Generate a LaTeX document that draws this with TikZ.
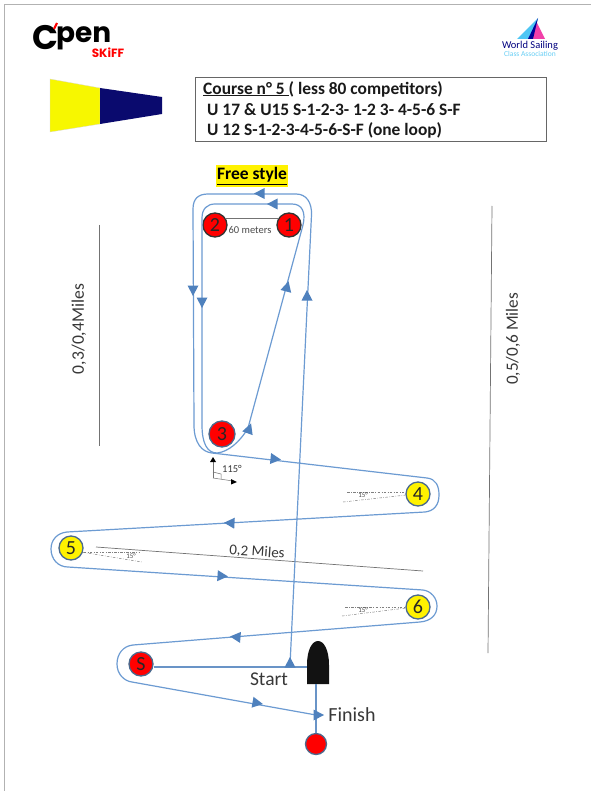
\documentclass[tikz,border=0pt]{standalone}
\usepackage{fontspec}
\setmainfont{Carlito}
\newfontfamily\logofont{Poppins}
\usetikzlibrary{calc}
\definecolor{loopblue}{HTML}{6C9BD2}
\definecolor{arrowblue}{HTML}{4F81BD}
\definecolor{ringgrey}{HTML}{4A6A8E}
\definecolor{navyflag}{HTML}{0A0A6E}
\definecolor{flagyellow}{HTML}{F7F700}
\tikzset{
  route/.style={draw=loopblue,line width=1.2pt},
  thick route/.style={draw=arrowblue!85!white,line width=1.6pt},
  scale line/.style={draw=black!55,line width=0.7pt},
  angle line/.style={draw=black!50,line width=0.5pt,dash pattern=on 2.5pt off 1.5pt on 0.6pt off 1.5pt},
  buoy/.style={circle,draw=ringgrey,line width=1.3pt,inner sep=0pt,minimum size=24pt,font=\fontsize{20}{20}\selectfont,text=black!85},
  redbuoy/.style={buoy,fill=red},
  yellowbuoy/.style={buoy,fill=yellow},
  lab/.style={inner sep=0pt,text=black!78},
  boxtext/.style={inner sep=0pt,anchor=west,text=black!90,font=\bfseries\fontsize{17.4}{17.4}\selectfont},
  tiny lab/.style={inner sep=0pt,text=black!70,font=\fontsize{7}{7}\selectfont},
}
\newcommand{\tipat}[3]{\fill[arrowblue,shift={(#1,#2)},rotate=#3] (6,0)--(-4.5,5.5)--(-4.5,-5.5)--cycle;}
\begin{document}
\begin{tikzpicture}[x=1pt,y=-1pt]
\useasboundingbox (0,0) rectangle (591,791);
\fill[white] (0,0) rectangle (591,791);
% page frame
\draw[black!30,line width=0.7pt] (4.5,791)--(4.5,4.5)--(591,4.5);
% logos
\node[inner sep=0pt,font=\logofont\bfseries\fontsize{34}{34}\selectfont] (logoC) at (45,38) {C};
\node[inner sep=0pt,font=\logofont\bfseries\fontsize{28}{28}\selectfont,anchor=west] (logoP) at (56,38) {pen};
\draw[red,line width=2.2pt] (54,29)--(57,23);
\node[inner sep=0pt,text=red,font=\logofont\bfseries\fontsize{12}{12}\selectfont] (logoS) at (108,53) {SKiFF};
\fill[cyan!70!white] (517,39)--(538,18)--(533,39)--cycle;
\fill[magenta!75!white] (530,39)--(537,23)--(545,39)--cycle;
\fill[blue!60!black] (528,39)--(538,18)--(533,39)--cycle;
\node[inner sep=0pt,text=blue!50!black,font=\fontsize{10.5}{10.5}\selectfont] (ws) at (530,46) {World Sailing};
\node[inner sep=0pt,text=cyan!60!white,font=\fontsize{7.5}{7.5}\selectfont] (wc) at (530,54) {Class Association};
% flag
\fill[flagyellow,draw=black!15,line width=0.3pt] (50,79)--(100,88)--(100,124)--(50,132)--cycle;
\fill[navyflag] (100,88)--(162,97)--(162,114)--(100,124)--cycle;
% course box
\node[draw=black!60,line width=0.8pt,minimum width=351pt,minimum height=64pt,inner sep=0pt] (box) at (370.5,109) {};
\node[boxtext] (t1) at (203,89) {\underline{Course n° 5 }( less 80 competitors)};
\node[boxtext] (t2) at (207,110) {U 17 \& U15 S-1-2-3- 1-2 3- 4-5-6 S-F};
\node[boxtext] (t3) at (207,130) {U 12 S-1-2-3-4-5-6-S-F (one loop)};
% free style
\node[fill=yellow,inner xsep=1.5pt,inner ysep=2pt,text=black,font=\bfseries\fontsize{17.5}{17.5}\selectfont] (fs) at (252,176) {\underline{Free style}};
% buoys
\node[redbuoy,draw=black!80] (m1) at (289,225) {1};
\node[redbuoy,draw=black!80] (m2) at (215,225) {2};
\node[redbuoy,minimum size=26pt] (m3) at (222,434) {3};
\node[yellowbuoy] (m4) at (418,494) {4};
\node[yellowbuoy] (m5) at (71,548) {5};
\node[yellowbuoy] (m6) at (418,607) {6};
\node[redbuoy] (ms) at (141,664) {S};
\node[redbuoy,minimum size=21pt] (mf) at (316,744) {};
% boat
\fill[black!93] (307,684)--(307,665) .. controls (307,650) and (312,641) .. (318,641) .. controls (324,641) and (329,650) .. (329,665)--(329,684)--cycle;
\coordinate (boatL) at (307,667);
\coordinate (boatB) at (316,684);
\coordinate (finishPt) at (316,715);
% 60 metres
\draw[scale line] (m2.30)--(m1.150);
\node[tiny lab,font=\fontsize{10.5}{10.5}\selectfont] (l60) at (250,230) {60 meters};
% scale lines
\coordinate (gl1) at (99,225); \coordinate (gl2) at (99,446);
\coordinate (gr1) at (492,206); \coordinate (gr2) at (488,653);
\coordinate (gm1) at (96,547); \coordinate (gm2) at (423,571);
\draw[scale line] (gl1)--(gl2);
\draw[scale line] (gr1)--(gr2);
\draw[scale line] (gm1)--(gm2);
\node[lab,rotate=90,font=\fontsize{17.6}{17.6}\selectfont] (dl) at (79,329) {0,3/0,4Miles};
\node[lab,rotate=90,font=\fontsize{17.2}{17.2}\selectfont] (dr) at (513,339) {0,5/0,6 Miles};
\node[lab,rotate=-4,font=\fontsize{15}{15}\selectfont] (dm) at (257,552) {0,2 Miles};
% 15 degree marks
\draw[angle line] (347,492)--(m4.west|-0,492);
\draw[angle line] (343,502)--(m4.185);
\node[tiny lab] (a4) at (363,495) {15°};
\draw[angle line] (m5.east|-0,552)--(140,552);
\draw[angle line] (m5.-20)--(142,562);
\node[tiny lab] (a5) at (131,556) {15°};
\draw[angle line] (345,607)--(m6.west);
\draw[angle line] (342,616)--(m6.185);
\node[tiny lab] (a6) at (363,610) {15°};
% 115 degree mark
\coordinate (ac) at (213,478);
\coordinate (au) at (213,461);
\coordinate (ar) at (233,481);
\draw[black!55,line width=0.5pt] (ac)--(au);
\draw[black!55,line width=0.5pt] (ac)--(ar);
\draw[black!55,line width=0.5pt] (213,472)--(221,474)--(221,479);
\fill[black] (213,457)--(210,462)--(216,462)--cycle;
\fill[black] (237,482)--(231,479)--(231,484.5)--cycle;
\node[lab,font=\fontsize{10.5}{10.5}\selectfont] (a115) at (232,469) {115°};
% routes
\draw[route] (290,665)--(311.5,215) .. controls (312,202) and (306,194) .. (296,194)--(208,194) .. controls (198,194) and (193,199) .. (193,209)--(194,425) .. controls (194,443) and (202,452) .. (212,453)--(427,478) .. controls (436,479) and (439,486) .. (439,495) .. controls (439,505) and (434,511) .. (425,512)--(67,532) .. controls (57,533) and (51,540) .. (51,549) .. controls (51,559) and (58,567) .. (68,567)--(423,590) .. controls (431,591) and (437,598) .. (437,606) .. controls (437,615) and (431,621) .. (420,622)--(133,645) .. controls (123,646) and (117,654) .. (117,664) .. controls (117,674) and (124,681) .. (132,682)--(finishPt);
\draw[route] (303,225)--(248,428) .. controls (240,442) and (228,452) .. (217,453) .. controls (207,453) and (202,443) .. (202,425)--(202,218) .. controls (202,209) and (207,204) .. (215,204)--(292,204) .. controls (302,204) and (306,212) .. (303,225);
\draw[thick route] (ms.east|-boatL)--(boatL);
\draw[thick route] (boatB)--(mf);
% arrowheads
\tipat{260}{193.5}{180}
\tipat{273}{204}{180}
\tipat{193}{290}{270}
\tipat{202}{302}{270}
\tipat{287}{287}{75}
\tipat{307}{296}{90}
\tipat{249}{429}{70}
\tipat{275}{459}{-6}
\tipat{230}{523}{177}
\tipat{222}{576}{-4}
\tipat{236}{637}{175}
\tipat{290}{663}{90}
\tipat{257}{703}{-10}
\tipat{318}{715}{0}
% start / finish
\node[lab,font=\fontsize{19.5}{19.5}\selectfont] (st) at (269,679) {Start};
\node[lab,font=\fontsize{20}{20}\selectfont] (fn) at (352,715) {Finish};
\end{tikzpicture}
\end{document}
